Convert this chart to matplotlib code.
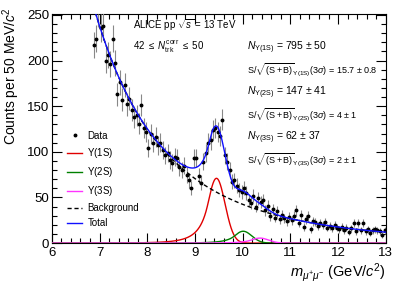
import numpy as np
import matplotlib
matplotlib.use("Agg")
import matplotlib.pyplot as plt
from matplotlib.ticker import MultipleLocator
from matplotlib.lines import Line2D

plt.rcParams['font.family'] = ['Liberation Sans', 'DejaVu Sans']
plt.rcParams['mathtext.fontset'] = 'custom'
plt.rcParams['mathtext.rm'] = 'Liberation Sans'
plt.rcParams['mathtext.it'] = 'Liberation Sans:italic'
plt.rcParams['mathtext.bf'] = 'Liberation Sans:bold'

# dimuon invariant mass, 50 MeV bins (first visible bin centre 6.875 GeV/c^2)
bin_width = 0.05
first_bin = 6.875
counts = [
    217, 224, 253, 236, 238, 200, 206, 196, 224, 197,
    163, 176, 157, 173, 152, 158, 146, 138, 140, 131,
    151, 126, 122, 104, 120, 110, 116, 107, 110, 102,
    96, 99, 91, 88, 94, 93, 83, 80, 85, 75,
    69, 60, 93, 93, 74, 66, 89, 99, 110, 113,
    124, 126, 122, 117, 135, 96, 89, 80, 67, 69,
    63, 58, 56, 60, 55, 47, 44, 52, 40, 49,
    45, 47, 36, 41, 30, 37, 28, 35, 26, 31,
    27, 24, 29, 25, 30, 36, 22, 31, 18, 26,
    30, 15, 24, 23, 19, 22, 20, 23, 17, 19,
    16, 20, 17, 15, 18, 14, 17, 12, 16, 22,
    13, 22, 14, 22, 13, 15, 11, 14, 15, 14,
    13, 9, 14,
]

# fit result
bkg_norm = 2.87e6
bkg_slope = 4.83
peak_names = [r'$\Upsilon$(1S)', r'$\Upsilon$(2S)', r'$\Upsilon$(3S)']
peak_mean = [9.45, 10.01, 10.36]
peak_sigma = [0.18, 0.18, 0.18]
peak_amp = [71.0, 13.0, 5.5]
peak_colors = ['#e00000', '#008000', '#ff33ff']

info_left = [r'ALICE pp $\sqrt{s}$ = 13 TeV',
             r'42 $\leq$ $N_{\mathrm{trk}}^{\mathrm{corr}}$ $\leq$ 50']
info_yield = [
    r'$N_{\Upsilon\mathrm{(1S)}}$ = 795 $\pm$ 50',
    r'$N_{\Upsilon\mathrm{(2S)}}$ = 147 $\pm$ 41',
    r'$N_{\Upsilon\mathrm{(3S)}}$ = 62 $\pm$ 37',
]
info_signif = [
    r'S/$\sqrt{\mathrm{(S+B)}}_{\Upsilon\mathrm{(1S)}}$(3$\sigma$) = 15.7 $\pm$ 0.8',
    r'S/$\sqrt{\mathrm{(S+B)}}_{\Upsilon\mathrm{(2S)}}$(3$\sigma$) = 4 $\pm$ 1',
    r'S/$\sqrt{\mathrm{(S+B)}}_{\Upsilon\mathrm{(3S)}}$(3$\sigma$) = 2 $\pm$ 1',
]


def crystal_ball(x, mu, sig, amp, alpha=1.0, n=5.0):
    t = (x - mu) / sig
    out = amp * np.exp(-0.5 * t**2)
    a = (n / alpha)**n * np.exp(-0.5 * alpha**2)
    b = n / alpha - alpha
    tail = t < -alpha
    out[tail] = amp * a * (b - t[tail])**(-n)
    return out


counts = np.array(counts, dtype=float)
mass = first_bin + bin_width * np.arange(len(counts))
errs = np.sqrt(counts)

xs = np.linspace(6, 13, 1000)
bkg = bkg_norm * xs**(-bkg_slope)
peaks = [crystal_ball(xs, m, s, a) for m, s, a in zip(peak_mean, peak_sigma, peak_amp)]
total = bkg + sum(peaks)

fig = plt.figure(figsize=(3.99, 2.86), dpi=100)
ax = fig.add_axes([0.130, 0.150, 0.837, 0.801])

ax.errorbar(mass, counts, yerr=errs, fmt='o', color='black', ms=1.8,
            ecolor='#888888', elinewidth=0.8, capsize=0, zorder=3)
handles = [Line2D([], [], ls='none', marker='o', ms=1.8, color='black', label='Data')]
for p, name, c in zip(peaks, peak_names, peak_colors):
    handles += ax.plot(xs, p, color=c, lw=1.0, label=name, zorder=4)
handles += ax.plot(xs, bkg, color='black', lw=1.0, ls=(0, (3, 2)), label='Background', zorder=4)
handles += ax.plot(xs, total, color='#1010ff', lw=1.0, label='Total', zorder=5)

ax.set_xlim(6, 13)
ax.set_ylim(0, 251)
ax.xaxis.set_major_locator(MultipleLocator(1))
ax.xaxis.set_minor_locator(MultipleLocator(0.2))
ax.yaxis.set_major_locator(MultipleLocator(50))
ax.yaxis.set_minor_locator(MultipleLocator(10))
ax.tick_params(which='both', direction='in', top=True, right=True, labelsize=9.5, width=0.8)
ax.tick_params(which='major', length=7)
ax.tick_params(which='minor', length=3.5)
ax.tick_params(axis='x', pad=3)
ax.tick_params(axis='y', pad=2)
for s in ax.spines.values():
    s.set_linewidth(0.8)

ax.set_ylabel(r'Counts per 50 MeV/$c^{2}$', fontsize=10, loc='top')
ax.yaxis.set_label_coords(-0.088, 1.03)
ax.set_xlabel(r'$m_{\mu^{+}\mu^{-}}$ (GeV/$c^{2}$)', fontsize=10.5, loc='right', labelpad=1)

ax.legend(handles=handles, loc='upper left', bbox_to_anchor=(0.045, 0.49), frameon=False,
          fontsize=7, handlelength=1.6, handletextpad=0.5, labelspacing=0.52,
          borderaxespad=0, borderpad=0)

for i, t in enumerate(info_left):
    fig.text(133 / 399, 1 - (25 + 22 * i) / 286, t, fontsize=7, va='center')
for i, t in enumerate(info_yield):
    fig.text(247 / 399, 1 - (48 + 45 * i) / 286, t, fontsize=7.5, va='center')
for i, t in enumerate(info_signif):
    fig.text(247 / 399, 1 - (70 + 45 * i) / 286, t, fontsize=6.5, va='center')

fig.savefig('out.png', dpi=100)
